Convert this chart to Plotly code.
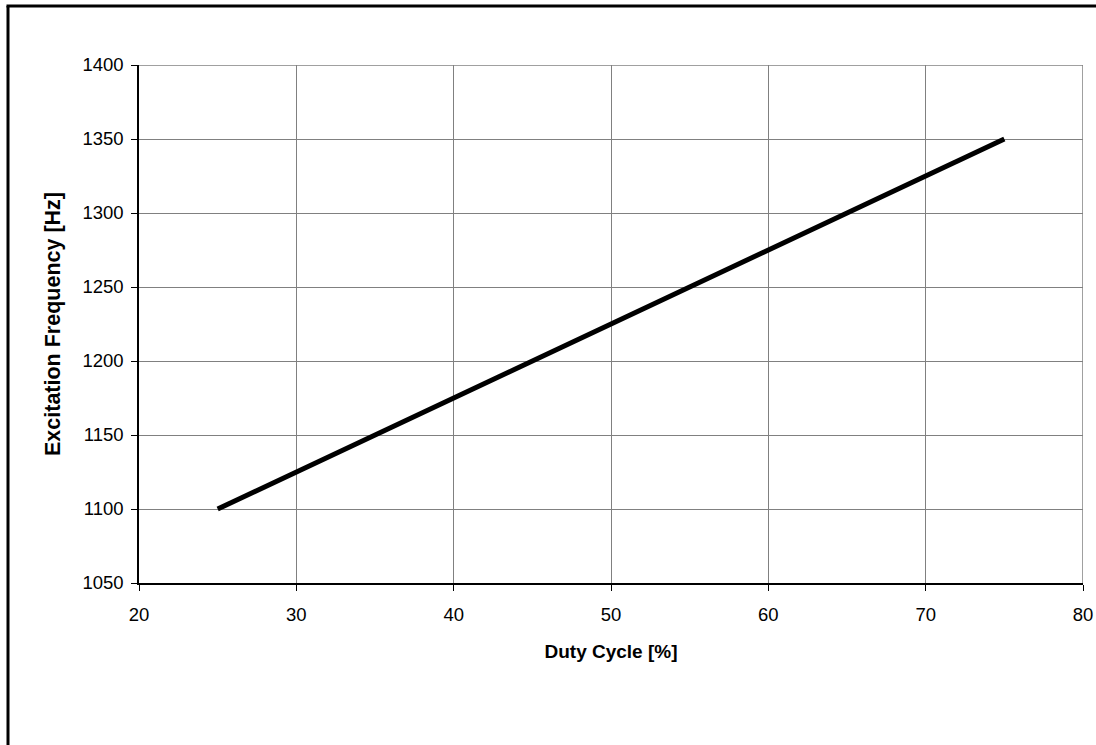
import plotly.graph_objects as go

duty_cycle = [25, 30, 35, 40, 45, 50, 55, 60, 65, 70, 75]
excitation_freq = [1100, 1125, 1150, 1175, 1200, 1225, 1250, 1275, 1300, 1325, 1350]

x_ticks = [20, 30, 40, 50, 60, 70, 80]
y_ticks = [1050, 1100, 1150, 1200, 1250, 1300, 1350, 1400]

FONT = "Liberation Sans, Arial"

fig = go.Figure()
fig.add_trace(go.Scatter(
    x=duty_cycle, y=excitation_freq, mode="lines",
    line=dict(color="black", width=5), showlegend=False,
))

W, H = 1096, 745
L, R, T, B = 139, 13, 65, 162
PW, PH = W - L - R, H - T - B

axis_common = dict(
    showgrid=True, gridcolor="#808080", gridwidth=1,
    showline=True, linecolor="black", linewidth=1.5,
    ticks="outside", ticklen=6, tickcolor="black", tickwidth=1,
    zeroline=False, mirror=False, automargin=False,
    tickfont=dict(family=FONT, size=18.5, color="black"),
)

fig.update_xaxes(
    range=[20, 80], tickvals=x_ticks, ticktext=[str(v) for v in x_ticks],
    ticklabelstandoff=8,
    title=dict(text="<b>Duty Cycle [%]</b>", standoff=21,
               font=dict(family=FONT, size=19, color="black")),
    **axis_common,
)
fig.update_yaxes(
    range=[1050, 1400], tickvals=y_ticks, ticktext=[str(v) for v in y_ticks],
    ticklabelstandoff=4,
    title=dict(text="<b>Excitation Frequency [Hz]</b>", standoff=16,
               font=dict(family=FONT, size=21.5, color="black")),
    **axis_common,
)

# Plot area right and top edges (gray)
fig.add_shape(type="line", xref="x", yref="y", x0=80, x1=80, y0=1050, y1=1400,
              line=dict(color="#808080", width=1.5))
fig.add_shape(type="line", xref="x", yref="y", x0=20, x1=80, y0=1400, y1=1400,
              line=dict(color="#808080", width=1.5))

# Outer frame: only its left and top edges are visible in the cropped image
fx0 = (8 - L) / PW
fx_right = (W - L) / PW
fy_top = 1 + (T - 6) / PH
fy_bottom = -B / PH
fig.add_shape(type="line", xref="paper", yref="paper",
              x0=fx0, x1=fx0, y0=fy_top, y1=fy_bottom,
              line=dict(color="black", width=3), layer="above")
fig.add_shape(type="line", xref="paper", yref="paper",
              x0=fx0 - 0.0016, x1=fx_right, y0=fy_top, y1=fy_top,
              line=dict(color="black", width=3), layer="above")

fig.update_layout(
    width=W, height=H, autosize=False,
    margin=dict(l=L, r=R, t=T, b=B, autoexpand=False),
    plot_bgcolor="white", paper_bgcolor="white",
    font=dict(family=FONT, color="black"),
)

fig.write_html(
    "out.html", config={"displayModeBar": False},
    post_script=("document.body.style.margin='0';"
                 "document.body.style.overflow='hidden';"
                 "document.documentElement.style.overflow='hidden';"),
)
